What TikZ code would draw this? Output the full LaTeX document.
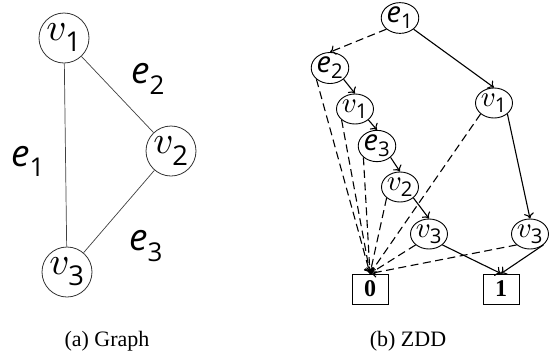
\documentclass[tikz,border=0pt]{standalone}
\usepackage{amsmath}
\usepackage{fontspec}
\setmainfont{Liberation Serif}
\newfontfamily\lsans{Open Sans}
\usetikzlibrary{shapes.geometric,arrows.meta}
% let the math italic letters scale freely to large sizes
\DeclareFontFamily{OML}{cmm}{\skewchar\font127 }
\DeclareFontShape{OML}{cmm}{m}{it}{<->cmmi10}{}

% vertex and edge labels: italic letter with a sans-serif index
\newcommand{\vx}[1]{$v_{\text{\lsans #1}}$}
\newcommand{\ex}[1]{$\text{\lsans\itshape e}_{\text{\lsans #1}}$}

\begin{document}
\begin{tikzpicture}[x=1pt,y=-1pt,
  gvert/.style={circle, draw=black!80, line width=0.8pt, minimum size=50pt,
    inner sep=0pt, font=\fontsize{39}{40}\selectfont},
  gedge/.style={draw=black!75, line width=0.7pt},
  glabel/.style={inner sep=0pt, font=\fontsize{37}{40}\selectfont},
  znode/.style={ellipse, draw, line width=0.9pt, minimum width=36pt,
    minimum height=30pt, inner sep=0pt, font=\fontsize{29}{30}\selectfont},
  zterm/.style={rectangle, draw, line width=0.9pt, minimum width=36pt,
    minimum height=30pt, inner sep=0pt, font=\fontsize{24}{24}\selectfont\bfseries},
  hiarc/.style={line width=1.1pt, -{To[length=5.5pt,width=10pt]}},
  loarc/.style={hiarc, dash pattern=on 8pt off 4.5pt},
  caption/.style={inner sep=0pt, font=\fontsize{22}{24}\selectfont}]
\useasboundingbox (0,0) rectangle (549,360);

% (a) the graph
\node[gvert] (g1) at (64,38) {\vx{1}};
\node[gvert] (g2) at (171,151) {\vx{2}};
\node[gvert] (g3) at (67,272) {\vx{3}};
\draw[gedge] (g1) -- (g3);
\draw[gedge] (g1) -- (g2);
\draw[gedge] (g2) -- (g3);
\node[glabel] (l1) at (28,161) {\ex{1}};
\node[glabel] (l2) at (148,79) {\ex{2}};
\node[glabel] (l3) at (146,246) {\ex{3}};

% (b) the ZDD
\node[znode] (ze1) at (400,18) {\ex{1}};
\node[znode] (ze2) at (330,68) {\ex{2}};
\node[znode] (zv1a) at (355,109) {\vx{1}};
\node[znode] (ze3) at (377,146) {\ex{3}};
\node[znode] (zv2) at (400,187) {\vx{2}};
\node[znode] (zv3a) at (429,234) {\vx{3}};
\node[znode] (zv1b) at (494,103) {\vx{1}};
\node[znode] (zv3b) at (530,234) {\vx{3}};
\node[zterm] (zero) at (370,289) {0};
\node[zterm] (one) at (501,289) {1};

% 1-arcs
\draw[hiarc] (ze1.south east) -- (zv1b.north);
\draw[hiarc] (ze2.south east) -- (zv1a.north);
\draw[hiarc] (zv1a.south east) -- (ze3.north);
\draw[hiarc] (ze3.south east) -- (zv2.north);
\draw[hiarc] (zv2.south east) -- (zv3a.north);
\draw[hiarc] (zv3a.south east) -- (one.north);
\draw[hiarc] (zv1b.south east) -- (zv3b.north);
\draw[hiarc] (zv3b.south east) -- (one.north);
% 0-arcs
\draw[loarc] (ze1.south west) -- (ze2.north);
\foreach \n in {ze2,zv1a,ze3,zv2,zv3a,zv1b,zv3b}
  \draw[loarc] (\n.south west) -- (zero.north);

% captions
\node[caption] (capa) at (107,341) {(a) Graph};
\node[caption] (capb) at (408,341) {(b) ZDD};
\end{tikzpicture}
\end{document}
